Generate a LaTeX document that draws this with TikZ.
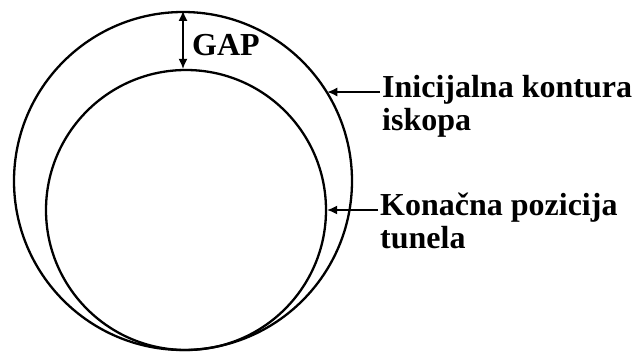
\documentclass[tikz,border=0pt]{standalone}
\usepackage{fontspec}
\setmainfont{Liberation Serif}
\usetikzlibrary{arrows.meta,positioning}

\begin{document}
\begin{tikzpicture}[
  x=1pt, y=-1pt,
  contour/.style={draw, circle, line width=2.3pt, inner sep=0pt},
  lbl/.style={font=\fontsize{32}{33}\selectfont\bfseries, align=left, inner sep=0pt},
  arr/.style={->, >={Latex[length=10pt,width=9pt]}, line width=1.4pt},
]
\useasboundingbox (0,0) rectangle (637,354);

% excavation and tunnel
\node[contour, minimum size=338pt] (outer) at (183,181) {};
\node[contour, minimum size=280pt] (inner) at (186,210) {};

\node[lbl, anchor=base west] (gap) at (192,55) {GAP};
\draw[arr, <->] (outer.north) -- (outer.north |- inner.north);

% labels
\node[lbl, anchor=north west] (init) at (382,75) {Inicijalna kontura\\iskopa};
\node[lbl, anchor=north west] (final) at (380,193) {Konačna pozicija\\tunela};

\coordinate (a1) at ([xshift=-2pt, yshift=-17pt]init.north west);
\coordinate (a2) at ([xshift=-2pt, yshift=-17pt]final.north west);
\draw[arr] (a1) -- (a1 -| outer.32);
\draw[arr] (a2) -- (a2 -| inner.east);
\end{tikzpicture}
\end{document}
